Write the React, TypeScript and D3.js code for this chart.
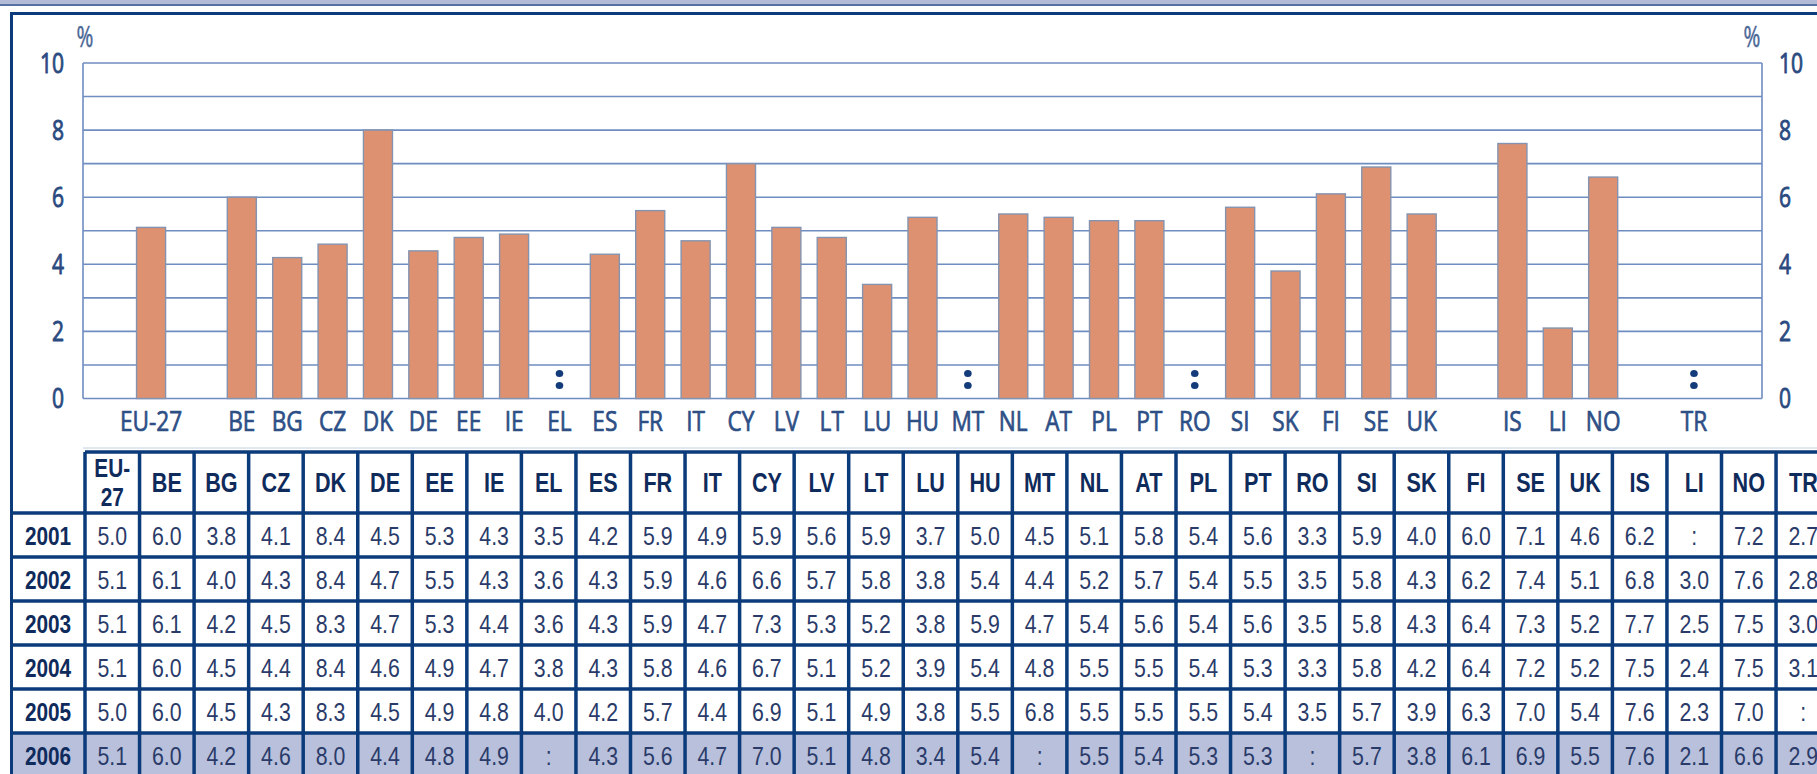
import React from 'react';
import * as d3 from 'd3';

// countries in table order
const countries = ['EU-27', 'BE', 'BG', 'CZ', 'DK', 'DE', 'EE', 'IE', 'EL', 'ES', 'FR', 'IT', 'CY', 'LV', 'LT', 'LU', 'HU', 'MT', 'NL', 'AT', 'PL', 'PT', 'RO', 'SI', 'SK', 'FI', 'SE', 'UK', 'IS', 'LI', 'NO', 'TR'];

// chart slots (empty slots make the gaps between groups)
const chartSlots = ['g0', 'EU-27', 'g1', 'BE', 'BG', 'CZ', 'DK', 'DE', 'EE', 'IE', 'EL', 'ES', 'FR', 'IT', 'CY', 'LV', 'LT', 'LU', 'HU', 'MT', 'NL', 'AT', 'PL', 'PT', 'RO', 'SI', 'SK', 'FI', 'SE', 'UK', 'g2', 'IS', 'LI', 'NO', 'g3', 'TR', 'g4'];

// bars (2006), null = not available (":")
const chartValues = [5.1, 6.0, 4.2, 4.6, 8.0, 4.4, 4.8, 4.9, null, 4.3, 5.6, 4.7, 7.0, 5.1, 4.8, 3.4, 5.4, null, 5.5, 5.4, 5.3, 5.3, null, 5.7, 3.8, 6.1, 6.9, 5.5, 7.6, 2.1, 6.6, null];

const years = ['2001', '2002', '2003', '2004', '2005', '2006'];
const v2001 = [5.0, 6.0, 3.8, 4.1, 8.4, 4.5, 5.3, 4.3, 3.5, 4.2, 5.9, 4.9, 5.9, 5.6, 5.9, 3.7, 5.0, 4.5, 5.1, 5.8, 5.4, 5.6, 3.3, 5.9, 4.0, 6.0, 7.1, 4.6, 6.2, null, 7.2, 2.7];
const v2002 = [5.1, 6.1, 4.0, 4.3, 8.4, 4.7, 5.5, 4.3, 3.6, 4.3, 5.9, 4.6, 6.6, 5.7, 5.8, 3.8, 5.4, 4.4, 5.2, 5.7, 5.4, 5.5, 3.5, 5.8, 4.3, 6.2, 7.4, 5.1, 6.8, 3.0, 7.6, 2.8];
const v2003 = [5.1, 6.1, 4.2, 4.5, 8.3, 4.7, 5.3, 4.4, 3.6, 4.3, 5.9, 4.7, 7.3, 5.3, 5.2, 3.8, 5.9, 4.7, 5.4, 5.6, 5.4, 5.6, 3.5, 5.8, 4.3, 6.4, 7.3, 5.2, 7.7, 2.5, 7.5, 3.0];
const v2004 = [5.1, 6.0, 4.5, 4.4, 8.4, 4.6, 4.9, 4.7, 3.8, 4.3, 5.8, 4.6, 6.7, 5.1, 5.2, 3.9, 5.4, 4.8, 5.5, 5.5, 5.4, 5.3, 3.3, 5.8, 4.2, 6.4, 7.2, 5.2, 7.5, 2.4, 7.5, 3.1];
const v2005 = [5.0, 6.0, 4.5, 4.3, 8.3, 4.5, 4.9, 4.8, 4.0, 4.2, 5.7, 4.4, 6.9, 5.1, 4.9, 3.8, 5.5, 6.8, 5.5, 5.5, 5.5, 5.4, 3.5, 5.7, 3.9, 6.3, 7.0, 5.4, 7.6, 2.3, 7.0, null];
const v2006 = [5.1, 6.0, 4.2, 4.6, 8.0, 4.4, 4.8, 4.9, null, 4.3, 5.6, 4.7, 7.0, 5.1, 4.8, 3.4, 5.4, null, 5.5, 5.4, 5.3, 5.3, null, 5.7, 3.8, 6.1, 6.9, 5.5, 7.6, 2.1, 6.6, 2.9];
const tableRows = [v2001, v2002, v2003, v2004, v2005, v2006];

const yTicks = [0, 2, 4, 6, 8, 10];

const W = 1817;
const H = 774;
const NAVY = '#0b3b7a';
const CHART_FONT = "'Open Sans', 'Liberation Sans', sans-serif";
const TABLE_FONT = "'Liberation Sans', Arial, sans-serif";

// condensed text: scale glyphs horizontally; optional stroke for heavier look
const NText = ({ x, y, anchor = 'middle', size, weight = 400, fill, sx = 0.8, font, heavy = 0, children }: any) => (
  <text
    transform={`translate(${x},${y}) scale(${sx},1)`}
    textAnchor={anchor}
    fontSize={size}
    fontWeight={weight}
    fontFamily={font}
    fill={fill}
    stroke={heavy ? fill : 'none'}
    strokeWidth={heavy}
    strokeLinejoin="round"
  >
    {children}
  </text>
);

export default function App() {
  const x = d3.scaleBand<string>()
    .domain(chartSlots)
    .range([83, 1762])
    .paddingInner(0.36)
    .paddingOuter(0.18);

  const y = d3.scaleLinear().domain([0, 10]).range([398.5, 63]);

  const col = d3.scaleBand<string>()
    .domain(countries)
    .range([85, 85 + countries.length * 54.55]);

  const headerTop = 452;
  const row = d3.scaleBand<string>()
    .domain(years)
    .range([513, 513 + years.length * 44]);

  const fmt = (v: number | null) => (v == null ? ':' : v.toFixed(1));

  return (
    <div style={{ position: 'absolute', left: 0, top: 0 }}>
      <svg width={W} height={H} style={{ display: 'block', background: '#fff' }}>
        {/* page header band */}
        <rect x={0} y={0} width={W} height={4} fill="#b3bbd6" />
        <rect x={0} y={4} width={W} height={2} fill="#5670a3" />

        {/* frame */}
        <line x1={10} x2={W} y1={13.5} y2={13.5} stroke={NAVY} strokeWidth={3} />
        <line x1={11.5} x2={11.5} y1={12} y2={H} stroke={NAVY} strokeWidth={3} />

        {/* gridlines */}
        {y.ticks(10).map(t => (
          <line key={t} x1={83} x2={1762} y1={y(t)} y2={y(t)} stroke="#6f8dc0" strokeWidth={1.6} />
        ))}
        <line x1={83} x2={83} y1={y(10)} y2={y(0)} stroke="#6f8dc0" strokeWidth={1.6} />
        <line x1={1762} x2={1762} y1={y(10)} y2={y(0)} stroke="#6f8dc0" strokeWidth={1.6} />

        {/* bars */}
        {countries.map((c, i) => {
          const v = chartValues[i];
          const bx = x(c)!;
          if (v == null) {
            const cx = bx + x.bandwidth() / 2;
            return (
              <g key={c}>
                <ellipse cx={cx} cy={y(0) - 25} rx={3.8} ry={3.6} fill="#143c7a" />
                <ellipse cx={cx} cy={y(0) - 13} rx={3.8} ry={3.6} fill="#143c7a" />
              </g>
            );
          }
          return (
            <rect
              key={c}
              x={bx}
              y={y(v)}
              width={x.bandwidth()}
              height={y(0) - y(v)}
              fill="#de9170"
              stroke="#8494b0"
              strokeWidth={1.4}
            />
          );
        })}

        {/* y tick labels, both sides */}
        {yTicks.map(t => (
          <g key={t}>
            <NText x={64} y={y(t) + 9.5} anchor="end" size={27} fill="#2b4a80" font={CHART_FONT} sx={0.78} heavy={0.9}>{t}</NText>
            <NText x={1779} y={y(t) + 9.5} anchor="start" size={27} fill="#2b4a80" font={CHART_FONT} sx={0.78} heavy={0.9}>{t}</NText>
          </g>
        ))}
        <NText x={85} y={47} size={30} fill="#4a6796" font={CHART_FONT} sx={0.68} heavy={0.5}>%</NText>
        <NText x={1752} y={47} size={30} fill="#4a6796" font={CHART_FONT} sx={0.68} heavy={0.5}>%</NText>

        {/* category labels */}
        {countries.map(c => (
          <NText key={c} x={x(c)! + x.bandwidth() / 2} y={431} size={27} fill="#2e4f86" font={CHART_FONT} sx={0.84} heavy={0.7}>{c}</NText>
        ))}

        {/* separator under chart */}
        <line x1={83} x2={W} y1={448} y2={448} stroke="#c3d0df" strokeWidth={1} />

        {/* table: 2006 shading */}
        <rect x={13} y={row('2006')!} width={W - 13} height={row.bandwidth()} fill="#b8c0dc" />

        {/* table grid */}
        <line x1={col('EU-27')!} x2={W} y1={headerTop} y2={headerTop} stroke={NAVY} strokeWidth={3.5} />
        {years.map(yr => (
          <line key={yr} x1={10} x2={W} y1={row(yr)!} y2={row(yr)!} stroke={NAVY} strokeWidth={3.5} />
        ))}
        {countries.map(c => (
          <line key={c} x1={col(c)!} x2={col(c)!} y1={headerTop} y2={H} stroke={NAVY} strokeWidth={3.5} />
        ))}

        {/* header labels */}
        {countries.map(c => {
          const cx = col(c)! + col.bandwidth() / 2;
          if (c === 'EU-27') {
            return (
              <g key={c}>
                <NText x={cx} y={477} size={26} weight={700} fill="#0f2b5c" font={TABLE_FONT} sx={0.8}>EU-</NText>
                <NText x={cx} y={506} size={26} weight={700} fill="#0f2b5c" font={TABLE_FONT} sx={0.8}>27</NText>
              </g>
            );
          }
          return (
            <NText key={c} x={cx} y={492} size={27} weight={700} fill="#0f2b5c" font={TABLE_FONT} sx={0.8}>{c}</NText>
          );
        })}

        {/* rows */}
        {years.map((yr, r) => (
          <g key={yr}>
            <NText x={48} y={row(yr)! + 32} size={26} weight={700} fill="#0f2b5c" font={TABLE_FONT} sx={0.8}>{yr}</NText>
            {countries.map((c, i) => (
              <NText key={c} x={col(c)! + col.bandwidth() / 2} y={row(yr)! + 32} size={26} fill="#2a3b69" font={TABLE_FONT} sx={0.82}>
                {fmt(tableRows[r][i])}
              </NText>
            ))}
          </g>
        ))}
      </svg>
    </div>
  );
}
